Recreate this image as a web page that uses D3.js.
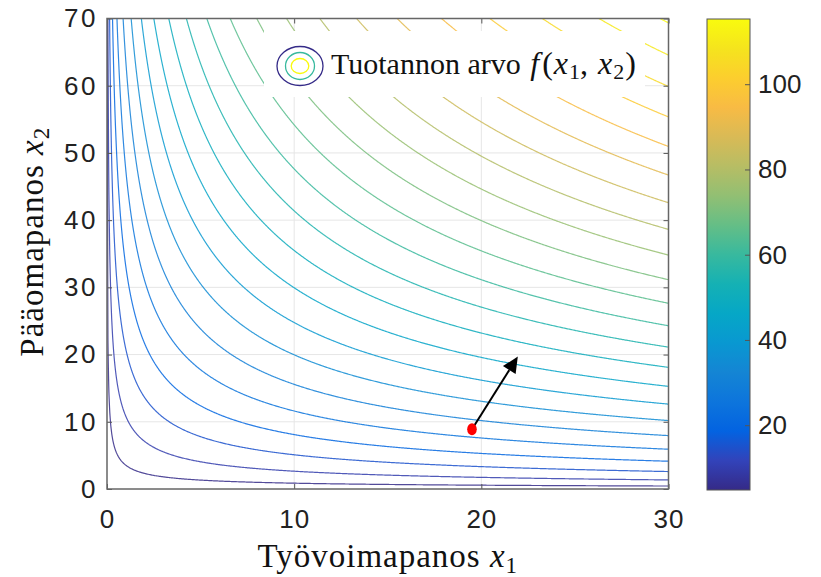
<!DOCTYPE html>
<html><head><meta charset="utf-8">
<script src="https://cdn.jsdelivr.net/npm/d3@7"></script>
<style>body{margin:0;background:#fff}svg{display:block}</style>
</head><body><svg id="c" width="821" height="577"></svg>
<script>
// ---- data ----
const xTicks=[0,10,20,30];
const yTicks=[0,10,20,30,40,50,60,70];
const cbTicks=[20,40,60,80,100];
const levels=[5,10,15,20,25,30,35,40,45,50,55,60,65,70,75,80,85,90,95,100,105,110,115];
// production function f(x1,x2)=A*x1^alpha*x2^beta, parameters estimated from contour positions
const prodA=2.28, prodAlpha=0.38, prodBeta=0.62;
const colorDomain=[4.8,115.3];
const point=[19.5,8.9];
const arrowTip=[21.95,19.7];
const legendLabel="Tuotannon arvo";
const xLabel="Työvoimapanos", yLabel="Pääomapanos";
const parula=[[0.2081,0.1663,0.5292],[0.1959,0.2645,0.7279],[0.0117,0.3875,0.8820],[0.0498,0.4586,0.8641],
 [0.0793,0.5200,0.8312],[0.0343,0.5966,0.8199],[0.0228,0.6535,0.7768],[0.0843,0.6928,0.7062],
 [0.2178,0.7250,0.6193],[0.3953,0.7459,0.5244],[0.5709,0.7485,0.4494],[0.7184,0.7411,0.3905],
 [0.8507,0.7299,0.3360],[0.9739,0.7314,0.2666],[0.9880,0.8066,0.1794],[0.9589,0.8949,0.1132],[0.9763,0.9831,0.0538]];

// ---- layout ----
const svg=d3.select('#c');
const P={l:107,r:668.5,t:18.5,b:489};
const xS=d3.scaleLinear().domain([0,30]).range([P.l,P.r]);
const yS=d3.scaleLinear().domain([0,70]).range([P.b,P.t]);
const cols=parula.map(c=>d3.rgb(c[0]*255,c[1]*255,c[2]*255).formatHex());
const color=d3.scaleSequential(d3.piecewise(d3.interpolateRgb,cols)).domain(colorDomain).clamp(true);

const defs=svg.append('defs');
defs.append('clipPath').attr('id','pc').append('rect')
  .attr('x',P.l).attr('y',P.t).attr('width',P.r-P.l).attr('height',P.b-P.t);

// grid lines
const gg=svg.append('g').attr('stroke','#e6e6e6').attr('stroke-width',1);
gg.selectAll('.vx').data(xTicks.filter(d=>d>0&&d<30)).join('line')
  .attr('x1',d=>xS(d)).attr('x2',d=>xS(d)).attr('y1',P.t).attr('y2',P.b);
gg.selectAll('.hy').data(yTicks.filter(d=>d>0&&d<70)).join('line')
  .attr('y1',d=>yS(d)).attr('y2',d=>yS(d)).attr('x1',P.l).attr('x2',P.r);

// contour grid
const dx=0.05, dy=0.1, x1max=31, x2max=72;
const n=Math.round(x1max/dx)+1, m=Math.round(x2max/dy)+1;
const vals=new Float64Array(n*m);
for(let j=0;j<m;j++){const x2=j*dy;for(let i=0;i<n;i++){const x1=i*dx;
  vals[j*n+i]=prodA*Math.pow(x1,prodAlpha)*Math.pow(x2,prodBeta);}}
const cont=d3.contours().size([n,m]).thresholds(levels)(vals);
const proj=d3.geoTransform({point(x,y){this.stream.point(xS((x-0.5)*dx),yS((y-0.5)*dy));}});
const path=d3.geoPath(proj);
svg.append('g').attr('clip-path','url(#pc)').selectAll('path').data(cont).join('path')
  .attr('d',path).attr('fill','none').attr('stroke',d=>color(d.value)).attr('stroke-width',1.2)
  .attr('stroke-opacity',0.85).attr('stroke-linejoin','round');

// legend
const lg=svg.append('g');
lg.append('rect').attr('x',264).attr('y',31).attr('width',381).attr('height',66).attr('fill','#fff');
const ec=[300,66];
[[23,19.5,color(levels[0])],[14.5,13.5,color(levels[11])],[8.8,7.5,color(levels[22])]].forEach(e=>{
  lg.append('ellipse').attr('cx',ec[0]).attr('cy',ec[1]).attr('rx',e[0]).attr('ry',e[1])
    .attr('fill','none').attr('stroke',e[2]).attr('stroke-width',1.3);
});
const lt=lg.append('text').attr('x',331).attr('y',74).attr('font-family','Liberation Serif, serif').attr('font-size',30).attr('fill','#111');
lt.append('tspan').text(legendLabel+' ');
lt.append('tspan').attr('font-style','italic').attr('font-size',32).attr('dx',2).text('f');
lt.append('tspan').attr('font-size',32).attr('dx',3).text('(');
lt.append('tspan').attr('font-style','italic').attr('font-size',32).attr('dx',1).text('x');
lt.append('tspan').attr('font-size',22).attr('dy',5).attr('dx',1).text('1');
lt.append('tspan').attr('font-size',32).attr('dy',-5).text(',');
lt.append('tspan').attr('font-style','italic').attr('font-size',32).attr('dx',10).text('x');
lt.append('tspan').attr('font-size',22).attr('dy',5).attr('dx',1).text('2');
lt.append('tspan').attr('font-size',32).attr('dy',-5).attr('dx',1).text(')');

// point and arrow
const p0=[xS(point[0]),yS(point[1])], p1=[xS(arrowTip[0]),yS(arrowTip[1])];
const ang=Math.atan2(p1[1]-p0[1],p1[0]-p0[0]);
const hl=16, hw=7.5;
const base=[p1[0]-hl*Math.cos(ang),p1[1]-hl*Math.sin(ang)];
svg.append('line').attr('x1',p0[0]).attr('y1',p0[1]).attr('x2',base[0]).attr('y2',base[1])
  .attr('stroke','#000').attr('stroke-width',2);
svg.append('polygon').attr('points',[p1,
  [base[0]+hw*Math.sin(ang),base[1]-hw*Math.cos(ang)],
  [base[0]-hw*Math.sin(ang),base[1]+hw*Math.cos(ang)]].map(p=>p.join(',')).join(' ')).attr('fill','#000');
svg.append('ellipse').attr('cx',p0[0]).attr('cy',p0[1]).attr('rx',4.8).attr('ry',6).attr('fill','#ff0000');

// axes
const tickFont='Liberation Sans, Arial, sans-serif';
function styleAx(g,labels,ls){g.select('.domain').remove();g.selectAll('.tick line').attr('stroke','#555');
  g.selectAll('.tick text').attr('font-family',tickFont).attr('font-size',26).attr('fill','#222')
   .attr('letter-spacing',ls||0);
  if(!labels)g.selectAll('.tick text').remove();}
svg.append('g').attr('transform',`translate(0,${P.b})`).call(d3.axisBottom(xS).tickValues(xTicks).tickSize(-5).tickPadding(21).tickFormat(d3.format('d'))).call(g=>styleAx(g,true,1));
svg.append('g').attr('transform',`translate(0,${P.t})`).call(d3.axisTop(xS).tickValues(xTicks).tickSize(-5)).call(g=>styleAx(g,false));
svg.append('g').attr('transform',`translate(${P.l},0)`).call(d3.axisLeft(yS).tickValues(yTicks).tickSize(-5).tickPadding(9).tickFormat(d3.format('d'))).call(g=>styleAx(g,true,2.5));
svg.append('g').attr('transform',`translate(${P.r},0)`).call(d3.axisRight(yS).tickValues(yTicks).tickSize(-5)).call(g=>styleAx(g,false));
svg.append('rect').attr('x',P.l).attr('y',P.t).attr('width',P.r-P.l).attr('height',P.b-P.t)
  .attr('fill','none').attr('stroke','#666').attr('stroke-width',1.5);

// axis labels
const xl=svg.append('text').attr('x',(P.l+P.r)/2).attr('y',567).attr('text-anchor','middle')
  .attr('font-family','Liberation Serif, serif').attr('font-size',33).attr('letter-spacing',1).attr('fill','#111');
xl.append('tspan').text(xLabel+' ');
xl.append('tspan').attr('font-style','italic').text('x');
xl.append('tspan').attr('font-size',23).attr('dy',6).text('1');
const yl=svg.append('text').attr('transform',`translate(43,${(P.t+P.b)/2-12}) rotate(-90)`).attr('text-anchor','middle')
  .attr('font-family','Liberation Serif, serif').attr('font-size',33).attr('letter-spacing',1).attr('fill','#111');
yl.append('tspan').text(yLabel+' ');
yl.append('tspan').attr('font-style','italic').text('x');
yl.append('tspan').attr('font-size',23).attr('dy',6).text('2');

// colorbar
const CB={x:707,w:43,t:19,b:490};
const cbS=d3.scaleLinear().domain(colorDomain).range([CB.b,CB.t]);
const grad=defs.append('linearGradient').attr('id','cbg').attr('x1',0).attr('x2',0).attr('y1',1).attr('y2',0);
cols.forEach((c,i)=>grad.append('stop').attr('offset',i/(cols.length-1)).attr('stop-color',c));
svg.append('rect').attr('x',CB.x).attr('y',CB.t).attr('width',CB.w).attr('height',CB.b-CB.t)
  .attr('fill','url(#cbg)').attr('stroke','#555').attr('stroke-width',1);
svg.append('g').attr('transform',`translate(${CB.x+CB.w},0)`).call(d3.axisRight(cbS).tickValues(cbTicks).tickSize(-5).tickPadding(8)).call(g=>styleAx(g,true,0));
</script></body></html>
